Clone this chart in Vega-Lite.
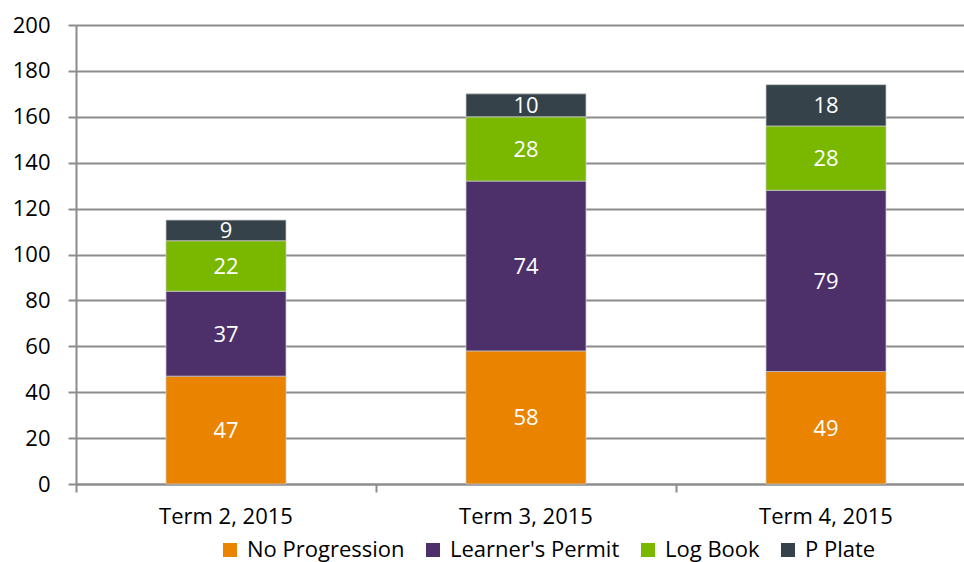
{
  "$schema": "https://vega.github.io/schema/vega-lite/v6.json",
  "width": 900,
  "height": 459,
  "autosize": {"type": "none"},
  "padding": {"left": 76, "top": 25, "right": 0, "bottom": 78},
  "background": "white",
  "config": {
    "font": "Open Sans",
    "view": {"stroke": null}
  },
  "data": {
    "values": [
      {"term": "Term 2, 2015", "status": "No Progression", "ord": 1, "value": 47},
      {"term": "Term 2, 2015", "status": "Learner's Permit", "ord": 2, "value": 37},
      {"term": "Term 2, 2015", "status": "Log Book", "ord": 3, "value": 22},
      {"term": "Term 2, 2015", "status": "P Plate", "ord": 4, "value": 9},
      {"term": "Term 3, 2015", "status": "No Progression", "ord": 1, "value": 58},
      {"term": "Term 3, 2015", "status": "Learner's Permit", "ord": 2, "value": 74},
      {"term": "Term 3, 2015", "status": "Log Book", "ord": 3, "value": 28},
      {"term": "Term 3, 2015", "status": "P Plate", "ord": 4, "value": 10},
      {"term": "Term 4, 2015", "status": "No Progression", "ord": 1, "value": 49},
      {"term": "Term 4, 2015", "status": "Learner's Permit", "ord": 2, "value": 79},
      {"term": "Term 4, 2015", "status": "Log Book", "ord": 3, "value": 28},
      {"term": "Term 4, 2015", "status": "P Plate", "ord": 4, "value": 18}
    ]
  },
  "transform": [
    {"stack": "value", "groupby": ["term"], "sort": [{"field": "ord", "order": "ascending"}], "as": ["v0", "v1"]},
    {"calculate": "(datum.v0 + datum.v1) / 2", "as": "mid"}
  ],
  "encoding": {
    "x": {
      "field": "term",
      "type": "nominal",
      "scale": {"paddingInner": 0, "paddingOuter": 0},
      "axis": {
        "title": null,
        "labelAngle": 0,
        "bandPosition": 0,
        "labelOffset": 0,
        "labelFontSize": 22,
        "labelColor": "#000000",
        "labelPadding": 14,
        "tickSize": 8,
        "tickColor": "#8c8c8c",
        "tickWidth": 2,
        "domainColor": "#8c8c8c",
        "domainWidth": 2,
        "grid": false
      }
    }
  },
  "layer": [
    {
      "mark": {"type": "bar", "stroke": "#c8c8c8", "strokeWidth": 0.75, "width": {"band": 0.4}},
      "encoding": {
        "y": {
          "field": "v0",
          "type": "quantitative",
          "scale": {"domain": [0, 200]},
          "axis": {
            "title": null,
            "values": [0, 20, 40, 60, 80, 100, 120, 140, 160, 180, 200],
            "labelFontSize": 22,
            "labelColor": "#000000",
            "labelPadding": 18,
            "tickSize": 8,
            "tickColor": "#8c8c8c",
            "tickWidth": 2,
            "domainColor": "#8c8c8c",
            "domainWidth": 2,
            "gridColor": "#8c8c8c",
            "gridWidth": 2
          }
        },
        "y2": {"field": "v1"},
        "color": {
          "field": "status",
          "type": "nominal",
          "sort": ["No Progression", "Learner's Permit", "Log Book", "P Plate"],
          "scale": {
            "domain": ["No Progression", "Learner's Permit", "Log Book", "P Plate"],
            "range": ["#E98300", "#4D2F6A", "#7AB800", "#36424A"]
          },
          "legend": {
            "title": null,
            "orient": "none",
            "direction": "horizontal",
            "legendX": 143,
            "legendY": 514,
            "symbolType": "square",
            "symbolSize": 196,
            "symbolStrokeWidth": 0,
            "labelFontSize": 22,
            "labelLimit": 400,
            "labelColor": "#000000",
            "labelOffset": 6,
            "columnPadding": 17
          }
        }
      }
    },
    {
      "mark": {"type": "text", "color": "white", "fontSize": 22, "baseline": "middle", "dy": 1},
      "encoding": {
        "y": {"field": "mid", "type": "quantitative"},
        "text": {"field": "value", "type": "quantitative"}
      }
    }
  ]
}
